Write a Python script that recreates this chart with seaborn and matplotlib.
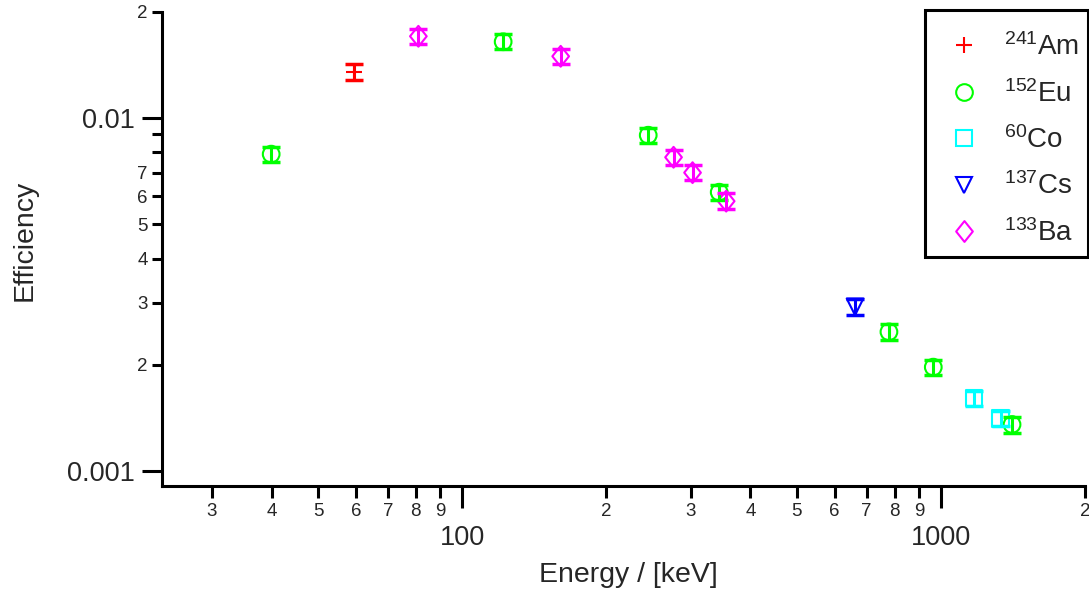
import matplotlib
matplotlib.use("Agg")
import matplotlib.pyplot as plt
import seaborn as sns
import numpy as np
from matplotlib.lines import Line2D
from matplotlib.patches import Rectangle
from matplotlib.ticker import FixedLocator, FixedFormatter
from matplotlib.path import Path

# ---------------- data ----------------
am_energy = [59.54]
am_eff = [0.01355]
am_err = [0.0007]

eu_energy = [39.9, 121.78, 244.70, 344.28, 778.90, 964.08, 1408.01]
eu_eff = [0.00791, 0.01647, 0.00895, 0.00617, 0.00248, 0.00197, 0.001355]
eu_err = [0.0004, 0.0008, 0.00045, 0.0003, 0.000125, 0.0001, 0.00007]

co_energy = [1173.2, 1332.5]
co_eff = [0.00161, 0.00141]
co_err = [0.00008, 0.00007]

cs_energy = [661.66]
cs_eff = [0.00292]
cs_err = [0.00015]

ba_energy = [81.0, 160.6, 276.4, 302.85, 356.01]
ba_eff = [0.01707, 0.01498, 0.00775, 0.00701, 0.00582]
ba_err = [0.00085, 0.00075, 0.0004, 0.00035, 0.0003]

labels = [r"$^{241}$Am", r"$^{152}$Eu", r"$^{60}$Co", r"$^{137}$Cs", r"$^{133}$Ba"]

x_major = [100, 1000]
x_major_labels = ["100", "1000"]
x_minor = [30, 40, 50, 60, 70, 80, 90, 200, 300, 400, 500, 600, 700, 800, 900, 2000]
x_minor_labels = ["3", "4", "5", "6", "7", "8", "9", "2", "3", "4", "5", "6", "7", "8", "9", "2"]
y_major = [0.001, 0.01]
y_major_labels = ["0.001", "0.01"]
y_minor = [0.002, 0.003, 0.004, 0.005, 0.006, 0.007, 0.008, 0.009, 0.02]
y_minor_labels = ["2", "3", "4", "5", "6", "7", "", "", "2"]

# ---------------- style ----------------
sns.set_style("ticks")
plt.rcParams["font.family"] = ["Liberation Sans", "DejaVu Sans"]
plt.rcParams["mathtext.fontset"] = "custom"
plt.rcParams["mathtext.rm"] = "Liberation Sans"
plt.rcParams["mathtext.it"] = "Liberation Sans:italic"
plt.rcParams["mathtext.bf"] = "Liberation Sans:bold"

diamond = Path([(0, 1), (0.8, 0), (0, -1), (-0.8, 0), (0, 1)],
               [Path.MOVETO, Path.LINETO, Path.LINETO, Path.LINETO, Path.CLOSEPOLY])

groups = [
    (am_energy, am_eff, am_err, "#FF0000", "+", 12),
    (eu_energy, eu_eff, eu_err, "#00FF00", "o", 12),
    (co_energy, co_eff, co_err, "#00FFFF", "s", 12),
    (cs_energy, cs_eff, cs_err, "#0000FF", "v", 12),
    (ba_energy, ba_eff, ba_err, "#FF00FF", diamond, 15),
]

W, H = 1089, 591
fig = plt.figure(figsize=(W / 100, H / 100), dpi=100)
ax = fig.add_axes([162 / W, 1 - 486 / H, (1085 - 162) / W, (486 - 12) / H])

for (xe, ye, err, col, mk, ms) in groups:
    if mk == "+":
        sns.scatterplot(x=xe, y=ye, marker=mk, s=ms ** 2, color=col,
                        linewidth=1.5, ax=ax, legend=False, zorder=3)
    else:
        sns.scatterplot(x=xe, y=ye, marker=mk, s=ms ** 2, color=col,
                        facecolor="none", edgecolor=col, linewidth=1.5,
                        ax=ax, legend=False, zorder=3)
    ax.errorbar(xe, ye, yerr=err, fmt="none", ecolor=col, elinewidth=2.2,
                capsize=6.5, capthick=2.5, zorder=4)

ax.set_xscale("log")
ax.set_yscale("log")
ax.set_xlim(23.6, 2000)
ax.set_ylim(0.000907, 0.02)

ax.xaxis.set_major_locator(FixedLocator(x_major))
ax.xaxis.set_major_formatter(FixedFormatter(x_major_labels))
ax.xaxis.set_minor_locator(FixedLocator(x_minor))
ax.xaxis.set_minor_formatter(FixedFormatter(x_minor_labels))
ax.yaxis.set_major_locator(FixedLocator(y_major))
ax.yaxis.set_major_formatter(FixedFormatter(y_major_labels))
ax.yaxis.set_minor_locator(FixedLocator(y_minor))
ax.yaxis.set_minor_formatter(FixedFormatter(y_minor_labels))

ax.tick_params(axis="x", which="major", direction="out", length=16, width=2.2,
               labelsize=19.5, pad=12, color="black")
ax.tick_params(axis="x", which="minor", direction="out", length=8.6, width=2.2,
               labelsize=13.5, pad=3.5, color="black")
ax.tick_params(axis="y", which="major", direction="out", length=14.4, width=2.2,
               labelsize=19.5, pad=5, color="black")
ax.tick_params(axis="y", which="minor", direction="out", length=7.2, width=2.2,
               labelsize=13.5, pad=3, color="black")

sns.despine(ax=ax)
for s in ["left", "bottom"]:
    ax.spines[s].set_linewidth(2.2)
    ax.spines[s].set_color("black")

ax.set_xlabel("Energy / [keV]", fontsize=20.5)
ax.set_ylabel("Efficiency", fontsize=20.5)
ax.xaxis.set_label_coords((628 - 162) / 923, (486 - 562) / 474)
ax.yaxis.set_label_coords((38 - 162) / 923, (486 - 240) / 474)

handles = []
for (xe, ye, err, col, mk, ms), lab in zip(groups, labels):
    if mk == "+":
        h = Line2D([], [], ls="none", marker=mk, color=col, ms=ms, mew=1.5, label=lab)
    else:
        h = Line2D([], [], ls="none", marker=mk, color=col, mfc="none", ms=ms, mew=1.5, label=lab)
    handles.append(h)

leg = ax.legend(handles=handles, loc="upper right",
                bbox_to_anchor=(1088 / W, 1 - 25 / H), bbox_transform=fig.transFigure,
                borderaxespad=0, fontsize=20, frameon=False,
                borderpad=0.3, handlelength=2.4, handletextpad=0.25, labelspacing=0.67)

# legend box (square black frame, as in the reference)
fig.patches.append(Rectangle((925 / W, 1 - 257 / H), (1088 - 925) / W, (257 - 10) / H,
                             transform=fig.transFigure, fill=False,
                             edgecolor="black", linewidth=2.2, zorder=5))

fig.savefig("out.png", dpi=100)
